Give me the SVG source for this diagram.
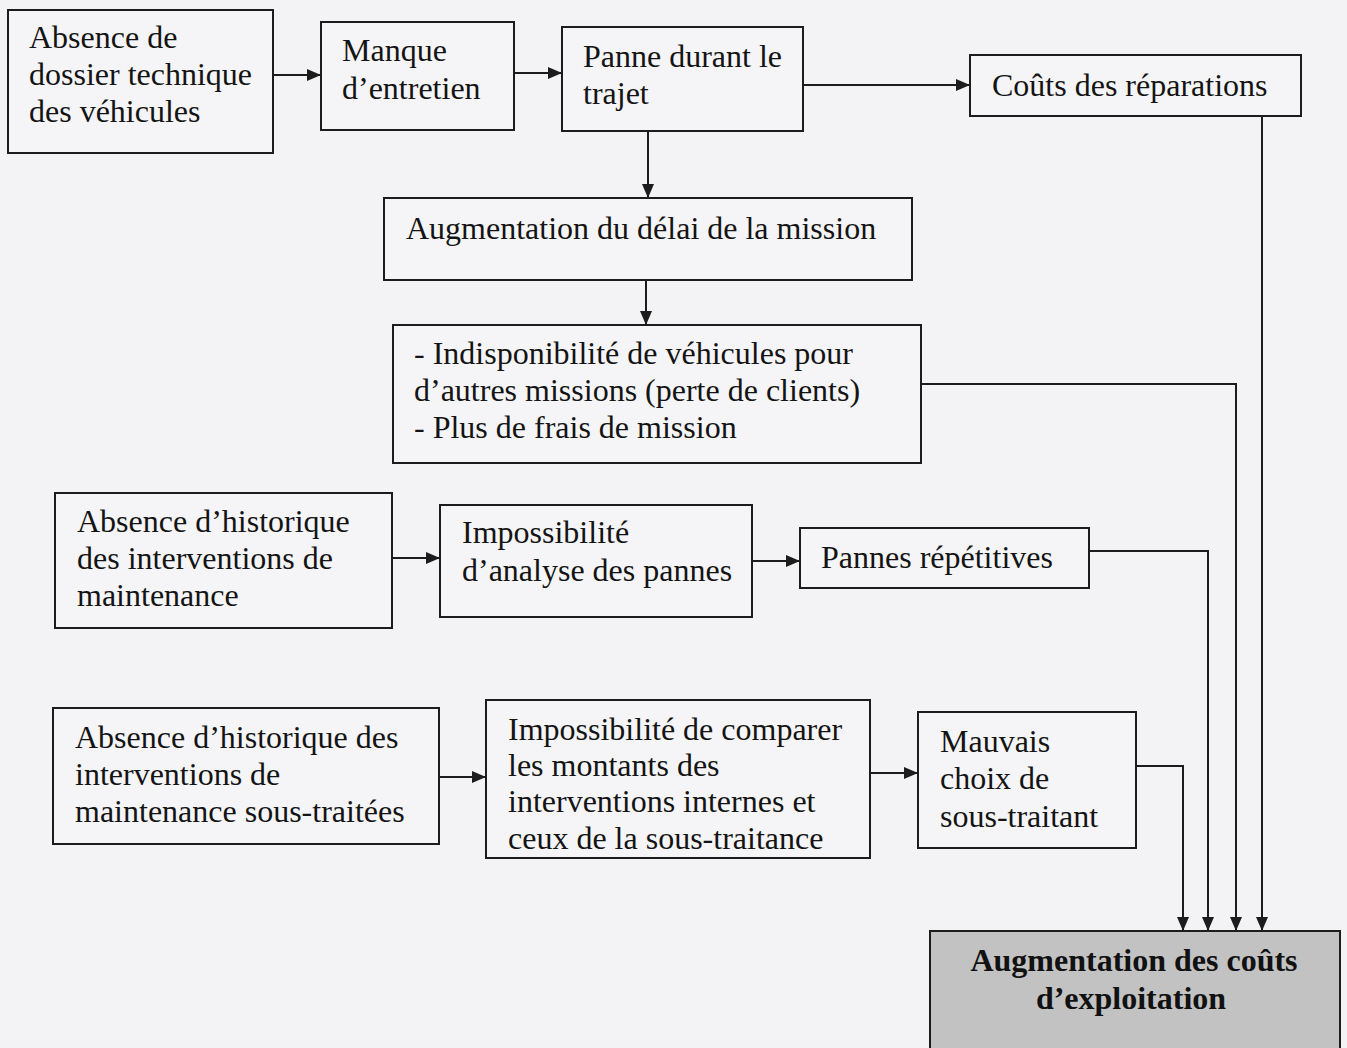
<svg xmlns="http://www.w3.org/2000/svg" width="1347" height="1048" viewBox="0 0 1347 1048">
  <style>
    .box { fill: #f5f5f7; stroke: #1c1c1c; stroke-width: 2; }
    .final { fill: #c2c2c2; stroke: #1c1c1c; stroke-width: 2; }
    .t { font-family: "Liberation Serif", "Times New Roman", serif; font-size: 32px; fill: #141414; }
    .tb { font-family: "Liberation Serif", "Times New Roman", serif; font-size: 32px; font-weight: bold; fill: #111; text-anchor: middle; }
    .link { fill: none; stroke: #1c1c1c; stroke-width: 2; marker-end: url(#arrow); }
  </style>
  <defs>
    <marker id="arrow" viewBox="0 0 14 12" refX="14" refY="6" markerWidth="14" markerHeight="12" markerUnits="userSpaceOnUse" orient="auto">
      <path d="M0,0 L14,6 L0,12 Z" fill="#1c1c1c"/>
    </marker>
  </defs>
  <rect width="1347" height="1048" fill="#f3f3f5"/>

  <g id="connectors">
    <path class="link" d="M273,75 H321"/>
    <path class="link" d="M514,73 H562"/>
    <path class="link" d="M803,85 H970"/>
    <path class="link" d="M648,131 V198"/>
    <path class="link" d="M646,280 V325"/>
    <path class="link" d="M392,558 H440"/>
    <path class="link" d="M752,561 H800"/>
    <path class="link" d="M439,777 H486"/>
    <path class="link" d="M870,773 H918"/>
    <path class="link" d="M1262,116 V931"/>
    <path class="link" d="M921,384 H1236 V931"/>
    <path class="link" d="M1089,551 H1208 V931"/>
    <path class="link" d="M1136,766 H1183 V931"/>
  </g>

  <g id="dossier-technique">
    <rect class="box" x="8" y="10" width="265" height="143"/>
    <text class="t" x="29" y="48">Absence de</text>
    <text class="t" x="29" y="85">dossier technique</text>
    <text class="t" x="29" y="122">des véhicules</text>
  </g>

  <g id="manque-entretien">
    <rect class="box" x="321" y="22" width="193" height="108"/>
    <text class="t" x="342" y="61">Manque</text>
    <text class="t" x="342" y="99">d’entretien</text>
  </g>

  <g id="panne-trajet">
    <rect class="box" x="562" y="27" width="241" height="104"/>
    <text class="t" x="583" y="67">Panne durant le</text>
    <text class="t" x="583" y="104">trajet</text>
  </g>

  <g id="couts-reparations">
    <rect class="box" x="970" y="55" width="331" height="61"/>
    <text class="t" x="992" y="96">Coûts des réparations</text>
  </g>

  <g id="delai-mission">
    <rect class="box" x="384" y="198" width="528" height="82"/>
    <text class="t" x="406" y="239">Augmentation du délai de la mission</text>
  </g>

  <g id="indisponibilite">
    <rect class="box" x="393" y="325" width="528" height="138"/>
    <text class="t" x="414" y="364">- Indisponibilité de véhicules pour</text>
    <text class="t" x="414" y="401">d’autres missions (perte de clients)</text>
    <text class="t" x="414" y="438">- Plus de frais de mission</text>
  </g>

  <g id="historique-interventions">
    <rect class="box" x="55" y="493" width="337" height="135"/>
    <text class="t" x="77" y="532">Absence d’historique</text>
    <text class="t" x="77" y="569">des interventions de</text>
    <text class="t" x="77" y="606">maintenance</text>
  </g>

  <g id="analyse-pannes">
    <rect class="box" x="440" y="505" width="312" height="112"/>
    <text class="t" x="462" y="543">Impossibilité</text>
    <text class="t" x="462" y="581">d’analyse des pannes</text>
  </g>

  <g id="pannes-repetitives">
    <rect class="box" x="800" y="528" width="289" height="60"/>
    <text class="t" x="821" y="568">Pannes répétitives</text>
  </g>

  <g id="historique-sous-traitance">
    <rect class="box" x="53" y="708" width="386" height="136"/>
    <text class="t" x="75" y="748">Absence d’historique des</text>
    <text class="t" x="75" y="785">interventions de</text>
    <text class="t" x="75" y="822">maintenance sous-traitées</text>
  </g>

  <g id="comparaison-montants">
    <rect class="box" x="486" y="700" width="384" height="158"/>
    <text class="t" x="508" y="740">Impossibilité de comparer</text>
    <text class="t" x="508" y="776">les montants des</text>
    <text class="t" x="508" y="812">interventions internes et</text>
    <text class="t" x="508" y="849">ceux de la sous-traitance</text>
  </g>

  <g id="choix-sous-traitant">
    <rect class="box" x="918" y="712" width="218" height="136"/>
    <text class="t" x="940" y="752">Mauvais</text>
    <text class="t" x="940" y="789">choix de</text>
    <text class="t" x="940" y="827">sous-traitant</text>
  </g>

  <g id="couts-exploitation">
    <rect class="final" x="930" y="931" width="410" height="130"/>
    <text class="tb" x="1134" y="971">Augmentation des coûts</text>
    <text class="tb" x="1131" y="1009">d’exploitation</text>
  </g>
</svg>
